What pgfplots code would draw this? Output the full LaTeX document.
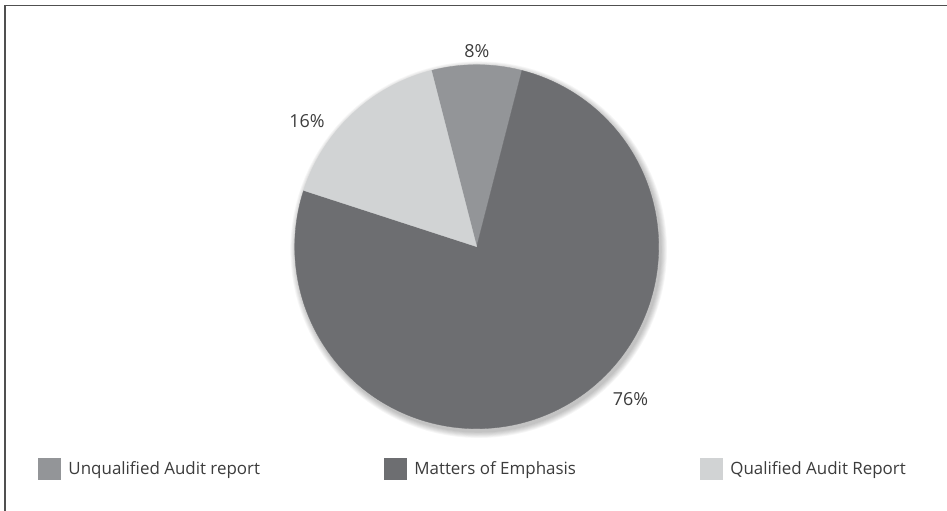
\documentclass[border=0pt]{standalone}
\usepackage{pgfplots}
\usepackage{pgfplotstable}
\pgfplotsset{compat=1.18}
\usepackage{fontspec}
\setmainfont{Open Sans}
\definecolor{cUnq}{HTML}{939598}
\definecolor{cMat}{HTML}{6D6E71}
\definecolor{cQual}{HTML}{D1D3D4}
\definecolor{txt}{HTML}{3C3C3C}
\definecolor{frame}{HTML}{505050}

\pgfplotstableread{
label value
Unqualified 8
Matters 76
Qualified 16
}\piedata

\begin{document}%
\begin{tikzpicture}
\pgfplotstablegetelem{0}{value}\of\piedata\edef\va{\pgfplotsretval}
\pgfplotstablegetelem{1}{value}\of\piedata\edef\vb{\pgfplotsretval}
\pgfplotstablegetelem{2}{value}\of\piedata\edef\vc{\pgfplotsretval}
\pgfmathsetmacro\aS{90+\va*1.8}
\pgfmathsetmacro\aA{\aS-\va*3.6}
\pgfmathsetmacro\aB{\aA-\vb*3.6}
\pgfmathsetmacro\aC{\aB-\vc*3.6}
\def\cx{476.7}\def\cy{264.3}\def\rr{182}
\fill[white] (0,0) rectangle (947bp,511bp);
\begin{axis}[
  at={(0,0)}, anchor=origin,
  x=1bp, y=1bp,
  xmin=0, xmax=947, ymin=0, ymax=511,
  enlargelimits=false,
  hide axis, clip=false,
  legend columns=3,
  legend image code/.code={\fill[#1] (0bp,-10.5bp) rectangle (22bp,10.5bp);},
  legend style={
    at={(axis cs:38,42.5)}, anchor=west,
    draw=none, fill=none, inner sep=0pt,
    font=\fontsize{17}{19}\selectfont\color{txt},
    nodes={inner xsep=0bp, inner ysep=0bp},
    /tikz/every odd column/.append style={column sep=8bp},
    /tikz/every even column/.append style={column sep=124bp},
  },
]
% soft shadow
\foreach \k in {1,...,7}{
  \addplot[forget plot, fill=black, fill opacity=0.035, draw=none, domain=0:360, samples=120, variable=\t]
    ({\cx+2+(\rr+\k*0.9)*cos(t)},{\cy-3+(\rr+\k*0.9)*sin(t)});
}
\addplot[fill=cUnq, draw=cUnq, line width=0.3pt, domain=\aS:\aA, samples=30, variable=\t]
  ({\cx+\rr*cos(t)},{\cy+\rr*sin(t)}) -- (axis cs:\cx,\cy) -- cycle;
\addlegendentry{Unqualified Audit report}
\addplot[fill=cMat, draw=cMat, line width=0.3pt, domain=\aA:\aB, samples=200, variable=\t]
  ({\cx+\rr*cos(t)},{\cy+\rr*sin(t)}) -- (axis cs:\cx,\cy) -- cycle;
\addlegendentry{Matters of Emphasis}
\addplot[fill=cQual, draw=cQual, line width=0.3pt, domain=\aB:\aC, samples=50, variable=\t]
  ({\cx+\rr*cos(t)},{\cy+\rr*sin(t)}) -- (axis cs:\cx,\cy) -- cycle;
\addlegendentry{Qualified Audit Report}

\node[font=\fontsize{18}{20}\selectfont, text=txt] at (axis cs:477,460) {\va\%};
\node[font=\fontsize{18}{20}\selectfont, text=txt] at (axis cs:307,390) {\vc\%};
\node[font=\fontsize{18}{20}\selectfont, text=txt] at (axis cs:630.5,112) {\vb\%};
\end{axis}
\draw[frame, line width=1.5bp] (5bp,0) -- (5bp,505.5bp) -- (947bp,505.5bp);
\pgfresetboundingbox
\path[use as bounding box] (0,0) rectangle (947bp,511bp);
\end{tikzpicture}%
\end{document}
